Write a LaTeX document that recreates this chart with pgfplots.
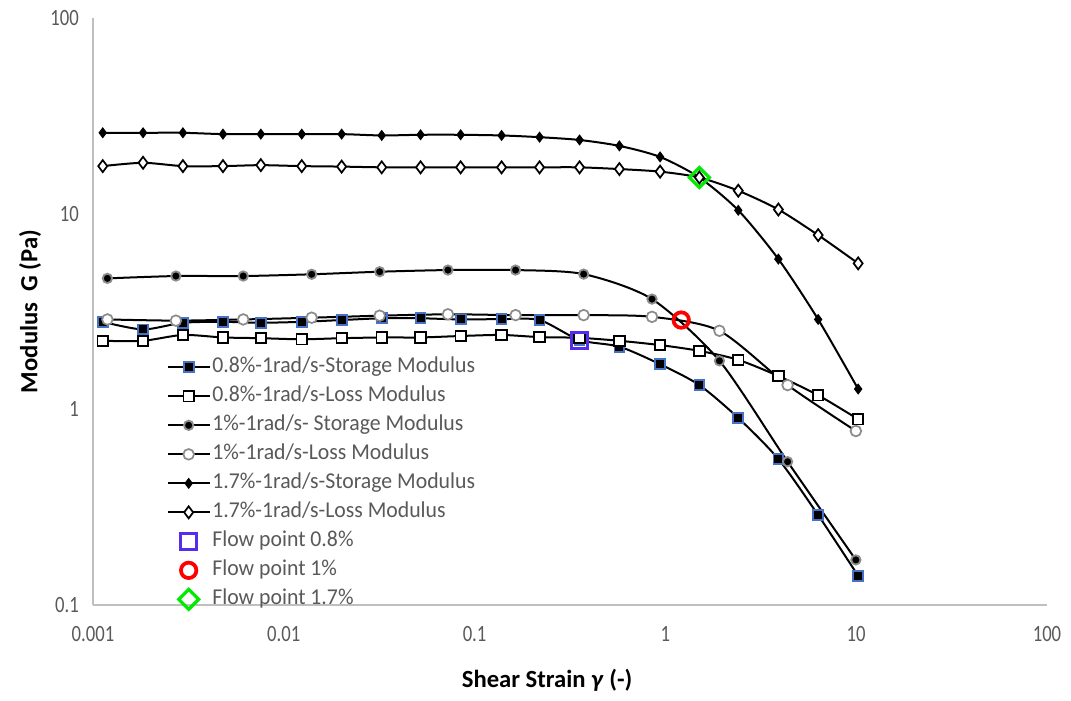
\documentclass[border=0pt]{standalone}
\usepackage{fontspec}
\setmainfont{Carlito}
\newfontfamily\condfont{Carlito}[FakeStretch=0.8]
\newfontfamily\legfont{Carlito}[FakeStretch=0.96]
\usepackage{pgfplots}
\pgfplotsset{compat=1.18}
\definecolor{labelgray}{HTML}{595959}
\definecolor{axisgray}{HTML}{BFBFBF}
\definecolor{blueedge}{HTML}{4472C4}
\definecolor{flowblue}{RGB}{85,45,235}
\definecolor{flowred}{RGB}{255,0,0}
\definecolor{flowgreen}{RGB}{0,235,0}
\definecolor{circgray}{HTML}{8C8C8C}
\begin{document}
\begin{tikzpicture}
\path[use as bounding box] (-69.75pt,-71.25pt) rectangle (733.5pt,453.75pt);
\begin{axis}[
  at={(0pt,0pt)}, anchor=south west,
  scale only axis, width=715.5pt, height=440.25pt,
  xmode=log, ymode=log, xmin=0.001, xmax=100, ymin=0.1, ymax=100,
  axis x line*=bottom, axis y line*=left,
  axis line style={draw=axisgray, line width=1pt},
  major tick length=0pt, minor tick length=0pt,
  xtick={0.001,0.01,0.1,1,10,100}, xticklabels={0.001,0.01,0.1,1,10,100},
  ytick={0.1,1,10,100}, yticklabels={0.1,1,10,100},
  ticklabel style={font=\condfont\fontsize{17.5}{20}\selectfont, text=labelgray},
  xticklabel style={anchor=center, yshift=-21.75pt},
  yticklabel style={anchor=east, inner sep=0pt, xshift=-10.5pt},
  xlabel={Shear Strain \textit{γ} (-)},
  ylabel={Modulus~~G (Pa)},
  label style={font=\bfseries\fontsize{18.5}{21}\selectfont},
  xlabel style={at={(axis description cs:0.476,-0.128)}, anchor=center},
  ylabel style={at={(axis description cs:-0.066,0.50)}, anchor=center},
  legend style={at={(axis description cs:0.0773,0.4235)}, anchor=north west,
    draw=none, fill=none, inner sep=0pt, row sep=5.75pt,
    font=\legfont\fontsize{17}{19}\selectfont, text=labelgray,
    nodes={inner ysep=0pt, inner xsep=1.5pt, text height=12pt, text depth=4pt}},
  legend cell align=left,
  legend image code/.code={\draw[mark repeat=2,mark phase=2] plot coordinates {(0pt,0pt) (15.5pt,0pt) (31pt,0pt)};},
]
% 0.8% storage
\addplot[black, line width=1.5pt, smooth, tension=0.45, mark=square*, mark size=3.7pt,
  mark options={draw=blueedge, fill=black, line width=1.4pt}] coordinates {
(0.001125,2.80) (0.00183,2.56) (0.00296,2.77) (0.00480,2.80) (0.00758,2.77)
(0.01242,2.80) (0.0201,2.86) (0.0326,2.92) (0.0521,2.92) (0.0845,2.88)
(0.1385,2.89) (0.2190,2.86) (0.355,2.26) (0.574,2.09) (0.938,1.70)
(1.507,1.33) (2.41,0.903) (3.91,0.557) (6.32,0.288) (10.24,0.141)};
\addlegendentry{0.8\%-1rad/s-Storage Modulus}
% 0.8% loss
\addplot[black, line width=1.5pt, smooth, tension=0.45, mark=square*, mark size=3.9pt,
  mark options={draw=black, fill=white, line width=1.4pt}] coordinates {
(0.001125,2.24) (0.00183,2.24) (0.00296,2.40) (0.00480,2.33) (0.00758,2.31)
(0.01242,2.28) (0.0201,2.31) (0.0326,2.33) (0.0521,2.33) (0.0845,2.37)
(0.1385,2.40) (0.2190,2.34) (0.355,2.32) (0.574,2.24) (0.938,2.13)
(1.507,1.99) (2.41,1.79) (3.91,1.48) (6.32,1.18) (10.24,0.89)};
\addlegendentry{0.8\%-1rad/s-Loss Modulus}
% 1% storage
\addplot[black, line width=1.5pt, smooth, tension=0.45, mark=*, mark size=3.5pt,
  mark options={draw=circgray, fill=black, line width=1.4pt}] coordinates {
(0.00119,4.67) (0.00272,4.80) (0.00613,4.80) (0.0140,4.90) (0.0318,5.05)
(0.0725,5.15) (0.164,5.15) (0.373,4.91) (0.851,3.66) (1.92,1.77)
(4.37,0.540) (9.96,0.170)};
\addlegendentry{1\%-1rad/s- Storage Modulus}
% 1% loss
\addplot[black, line width=1.5pt, smooth, tension=0.45, mark=*, mark size=4pt,
  mark options={draw=circgray, fill=white, line width=1.3pt}] coordinates {
(0.00119,2.88) (0.00272,2.84) (0.00613,2.88) (0.0140,2.94) (0.0318,3.01)
(0.0725,3.06) (0.164,3.03) (0.373,3.03) (0.851,2.97) (1.92,2.52)
(4.37,1.33) (9.96,0.775)};
\addlegendentry{1\%-1rad/s-Loss Modulus}
% 1.7% storage
\addplot[black, line width=1.5pt, smooth, tension=0.45, mark=diamond*, mark size=3.6pt,
  mark options={draw=black, fill=black, line width=0.8pt}] coordinates {
(0.001125,25.9) (0.00183,25.9) (0.00296,25.9) (0.00480,25.5) (0.00758,25.5)
(0.01242,25.5) (0.0201,25.5) (0.0326,25.1) (0.0521,25.3) (0.0845,25.3)
(0.1385,25.1) (0.2190,24.6) (0.355,23.8) (0.574,22.2) (0.938,19.5)
(1.507,15.3) (2.41,10.4) (3.91,5.86) (6.32,2.88) (10.24,1.27)};
\addlegendentry{1.7\%-1rad/s-Storage Modulus}
% 1.7% loss
\addplot[black, line width=1.5pt, smooth, tension=0.45, mark=diamond*, mark size=4.5pt,
  mark options={draw=black, fill=white, line width=1.3pt}] coordinates {
(0.001125,17.5) (0.00183,18.2) (0.00296,17.5) (0.00480,17.5) (0.00758,17.7)
(0.01242,17.5) (0.0201,17.4) (0.0326,17.25) (0.0521,17.25) (0.0845,17.25)
(0.1385,17.25) (0.2190,17.25) (0.355,17.25) (0.574,16.9) (0.938,16.4)
(1.507,15.3) (2.41,13.1) (3.91,10.5) (6.32,7.77) (10.24,5.57)};
\addlegendentry{1.7\%-1rad/s-Loss Modulus}
% flow points
\addplot[only marks, mark=square, mark size=6pt, draw=flowblue, line width=2.2pt] coordinates {(0.355,2.26)};
\addlegendentry{Flow point 0.8\%}
\addplot[only marks, mark=o, mark size=5.8pt, draw=flowred, line width=2.8pt] coordinates {(1.21,2.86)};
\addlegendentry{Flow point 1\%}
\addplot[only marks, mark=square, mark size=5.3pt, draw=flowgreen, line width=2.4pt, mark options={rotate=45}] coordinates {(1.507,15.3)};
\addlegendentry{Flow point 1.7\%}
\end{axis}
\end{tikzpicture}
\end{document}
